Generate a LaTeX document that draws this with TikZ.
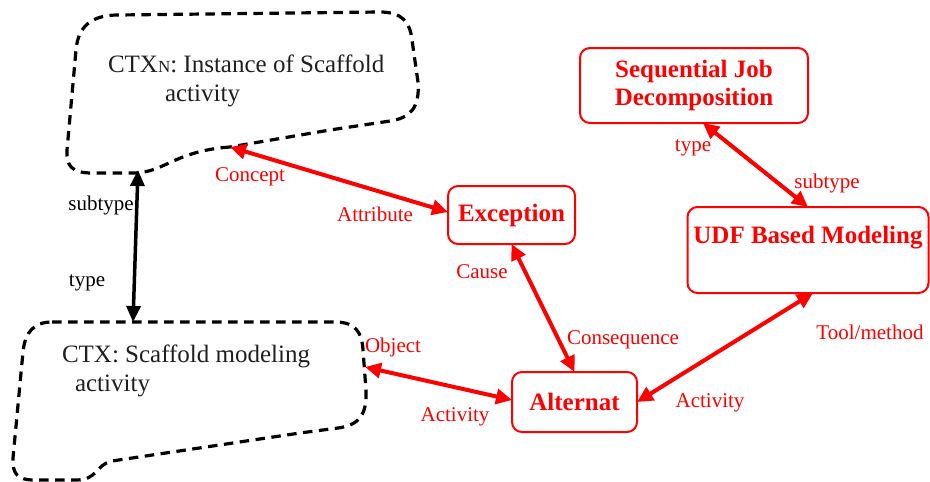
\documentclass[tikz,border=0pt]{standalone}
\usepackage{fontspec}
\setmainfont{Liberation Serif}
\usetikzlibrary{arrows.meta,calc}
\definecolor{linkred}{RGB}{255,0,0}
\tikzset{
  every node/.style={inner sep=0pt, outer sep=0pt},
  cloudline/.style={draw=black, line width=3.2pt, dash pattern=on 9.5pt off 6.5pt, line cap=butt, line join=round},
  cloudtext/.style={font=\fontsize{25}{28}\selectfont, anchor=base west, text=black!88},
  conceptbox/.style={draw=linkred, line width=2pt, rounded corners=10pt, fill=white,
    font=\fontsize{25}{30}\selectfont\bfseries, text=linkred, align=center},
  redlink/.style={draw=linkred, line width=4pt,
    {Triangle[length=16pt,width=15pt]}-{Triangle[length=16pt,width=15pt]}},
  blacklink/.style={draw=black, line width=3.5pt,
    {Triangle[length=16pt,width=14pt]}-{Triangle[length=16pt,width=14pt]}},
  redlabel/.style={font=\fontsize{21}{24}\selectfont, text=linkred},
  blacklabel/.style={font=\fontsize{21}{24}\selectfont, text=black},
}
\begin{document}
\begin{tikzpicture}[x=1pt, y=-1pt]
\useasboundingbox (0,0) rectangle (930,482);

% upper context cloud
\draw[cloudline] (230,147) .. controls (175,151) and (165,172) .. (135,173)
  -- (92,173) .. controls (72,173) and (66,166) .. (67,150)
  -- (76,50) .. controls (78,26) and (92,15) .. (118,15)
  -- (380,12) .. controls (402,12) and (410,22) .. (412,40)
  -- (418,82) .. controls (420,108) and (410,118) .. (390,121)
  -- (330,130) -- cycle;
% lower context cloud
\draw[cloudline] (52,322) -- (335,322) .. controls (356,322) and (362,333) .. (363,350)
  -- (366,390) .. controls (367,414) and (360,425) .. (338,428)
  -- (300,433) -- (112,461) .. controls (95,465) and (98,480) .. (76,480)
  -- (34,480) .. controls (18,480) and (12,474) .. (13,458)
  -- (23,352) .. controls (25,332) and (34,322) .. (52,322) -- cycle;

\coordinate (ctxnS) at (138,170);
\coordinate (ctxnC) at (230,147);
\coordinate (ctxN) at (133,322);
\coordinate (ctxE) at (365,367);

\node[cloudtext] (ctxnA) at (108,72) {CTX{\fontsize{17}{20}\selectfont N}: Instance of Scaffold};
\node[cloudtext] (ctxnB) at (165,101) {activity};
\node[cloudtext] (ctxA) at (62,362) {CTX: Scaffold modeling};
\node[cloudtext] (ctxB) at (75,391) {activity};

% concept boxes
\node[conceptbox, minimum width=127pt, minimum height=58pt] (exc) at (511.5,215) {Exception};
\node[conceptbox, minimum width=125pt, minimum height=60pt] (alt) at (574.5,402) {Alternat};
\node[conceptbox, minimum width=228pt, minimum height=75pt] (seq) at (694,85.5)
  {Sequential Job\\[-2pt]Decomposition};
\node[conceptbox, minimum width=241pt, minimum height=86pt] (udf) at (808,250) {};
\node[font=\fontsize{25}{30}\selectfont\bfseries, text=linkred] (udftext) at (808,238) {UDF Based Modeling};

% connectors
\draw[blacklink] (ctxN) -- (ctxnS);
\draw[redlink] (ctxnC) -- ($(exc.west)+(0,-3)$);
\draw[redlink] (exc.south) -- (alt.north);
\draw[redlink] (ctxE) -- ($(alt.west)+(0,-2)$);
\draw[redlink] (alt.east) -- ($(udf.south)+(5,0)$);
\draw[redlink] ($(seq.south)+(9,0)$) -- (udf.north);

% role labels
\node[blacklabel] (lsub) at (101,205) {subtype};
\node[blacklabel] (ltype) at (87,283) {type};
\node[redlabel] (lconcept) at (250,177) {Concept};
\node[redlabel] (lattr) at (375,214) {Attribute};
\node[redlabel] (lcause) at (482,272) {Cause};
\node[redlabel] (lcons) at (623,340) {Consequence};
\node[redlabel] (lobj) at (393,347) {Object};
\node[redlabel] (lact1) at (455,417) {Activity};
\node[redlabel] (lact2) at (710,403) {Activity};
\node[redlabel] (ltool) at (870,332) {Tool/method};
\node[redlabel] (ltype2) at (693,148) {type};
\node[redlabel] (lsub2) at (827,183) {subtype};
\end{tikzpicture}
\end{document}
